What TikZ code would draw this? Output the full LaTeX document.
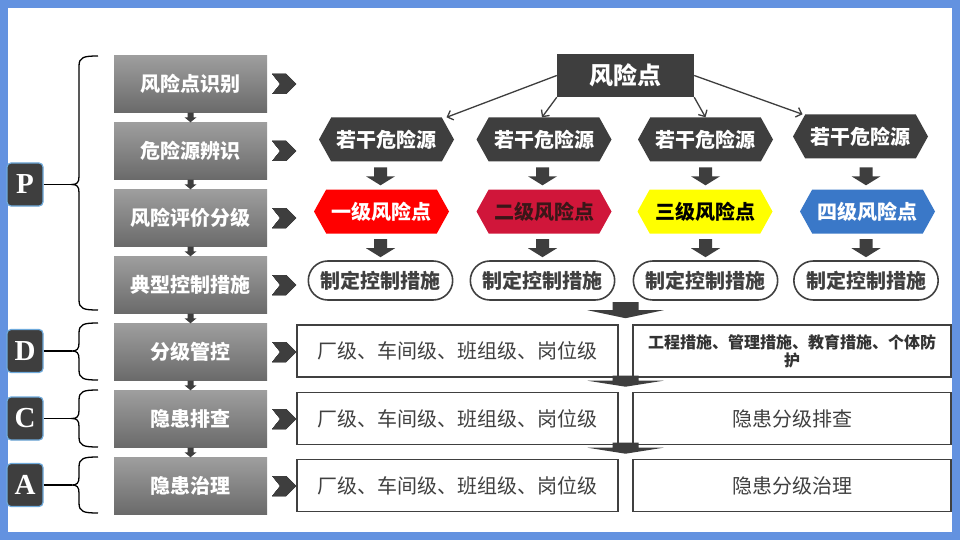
\documentclass[tikz,border=0pt]{standalone}
\usepackage{fontspec}
\setmainfont{Noto Sans CJK SC}
\newfontfamily\letterfont{Liberation Serif}
\usetikzlibrary{shapes.misc,shapes.symbols,arrows.meta,calc}

\definecolor{frameblue}{RGB}{99,146,224}
\definecolor{darkbox}{RGB}{62,62,62}
\definecolor{inkgray}{RGB}{64,64,64}
\definecolor{glowblue}{RGB}{110,170,220}
\definecolor{lvred}{RGB}{255,0,0}
\definecolor{lvcrimson}{RGB}{208,22,58}
\definecolor{lvdark}{RGB}{58,22,24}
\definecolor{lvyellow}{RGB}{255,255,0}
\definecolor{lvblue}{RGB}{58,120,200}

\tikzset{
  stage/.style={rectangle, top color={rgb,255:red,158;green,158;blue,158},
    bottom color={rgb,255:red,106;green,106;blue,106}, minimum width=153,
    minimum height=57, text=white, font=\bfseries\fontsize{20}{24}\selectfont},
  letter/.style={rectangle, rounded corners=4, fill=darkbox, draw=glowblue,
    line width=1.2, minimum width=36, minimum height=43, text=white,
    font=\letterfont\bfseries\fontsize{29}{29}\selectfont},
  topbox/.style={rectangle, fill=darkbox, minimum width=137, minimum height=43,
    text=white, font=\bfseries\fontsize{24}{28}\selectfont},
  source/.style={signal, signal to=east and west, signal pointer angle=122,
    fill=darkbox, text=white, minimum width=135, minimum height=44, inner sep=0,
    font=\bfseries\fontsize{20}{24}\selectfont},
  level/.style 2 args={source, fill=#1, text=#2},
  measure/.style={rounded rectangle, draw=inkgray, line width=1.6, fill=white,
    minimum width=151, minimum height=39, text=inkgray,
    font=\bfseries\fontsize{20}{24}\selectfont},
  row/.style={rectangle, draw=inkgray, line width=1.6, fill=white,
    minimum height=52, text=inkgray, font=\fontsize{20}{24}\selectfont},
  bracket/.style={line width=1.3, black},
  thinarrow/.style={->, line width=1.3, darkbox}
}

% block arrow: from, to, shaft half width, head half width, head length
\newcommand\blockarrow[5]{%
  \fill[darkbox] let \p1=(#1), \p2=(#2) in
    (\x1-#3pt,\y1) -- (\x1+#3pt,\y1) -- (\x1+#3pt,\y2+#5pt) -- (\x1+#4pt,\y2+#5pt)
    -- (\x1,\y2) -- (\x1-#4pt,\y2+#5pt) -- (\x1-#3pt,\y2+#5pt) -- cycle;}
% curly bracket: top, tip, bottom
\newcommand\curly[3]{%
  \draw[bracket] (98,#1) .. controls (84,#1) and (79,#1+1) .. (79,#1+10)
    -- (79,#2-8) .. controls (79,#2-2) and (77,#2) .. (72,#2)
    .. controls (77,#2) and (79,#2+2) .. (79,#2+8)
    -- (79,#3-10) .. controls (79,#3-1) and (84,#3) .. (98,#3);}

\begin{document}
\begin{tikzpicture}[x=1pt, y=-1pt, >={Straight Barb[length=5pt,width=10pt]}]
\useasboundingbox (0,0) rectangle (960,540);
\fill[frameblue] (0,0) rectangle (960,540);
\fill[white] (8,8) rectangle (952,532);

% left column of stages
\foreach \t [count=\i] in {风险点识别,危险源辨识,风险评价分级,典型控制措施,分级管控,隐患排查,隐患治理}
  \node[stage] (s\i) at (190.5,17+67*\i) {\t};
\foreach \i [evaluate=\i as \j using int(\i+1)] in {1,...,6}
  \blockarrow{s\i.south}{s\j.north}{3}{6}{5}
\foreach \i in {1,...,7}
  \fill[darkbox] ($(s\i.east)+(5,-10)$) -- ++(14,0) -- ++(10,10) -- ++(-10,10)
    -- ++(-14,0) -- ++(8,-10) -- cycle;

% P D C A with brackets
\foreach \n/\a/\b/\c in {P/56/184.5/310, D/323/351/380, C/390/418.5/447, A/457/485/513}{
  \node[letter] (\n) at (25,\b) {\n};
  \curly{\a}{\b}{\c}
  \coordinate (t\n) at (72,\b);
  \draw[bracket] (\n) -- (t\n);
}

% risk tree
\node[topbox] (risk) at (625.5,75.5) {风险点};
\foreach \i/\x/\y in {1/386.5/139.5, 2/544/139.5, 3/705.5/139.5, 4/860.5/136.5}
  \node[source] (h\i) at (\x,\y) {若干危险源};
\foreach \i/\x/\c/\t/\lv in {1/381.5/lvred/white/一, 2/544/lvcrimson/lvdark/二,
    3/705/lvyellow/black/三, 4/867.5/lvblue/white/四}
  \node[level={\c}{\t}] (l\i) at (\x,211.5) {{\lv}级风险点};
\foreach \i/\x in {1/380.5, 2/542.5, 3/705.5, 4/866}
  \node[measure] (m\i) at (\x,280.5) {制定控制措施};

\draw[thinarrow] (risk.west) -- ([xshift=60pt]h1.north);
\draw[thinarrow] (risk.south west) -- ([xshift=-2pt]h2.north);
\draw[thinarrow] (risk.south east) -- (h3.north);
\draw[thinarrow] (risk.east) -- ([xshift=-58pt]h4.north);

\foreach \i in {1,...,4}{
  \blockarrow{$(l\i.north -| m\i.north)+(0,-22)$}{$(l\i.north -| m\i.north)+(0,-4)$}{6.5}{14.5}{9}
  \blockarrow{$(m\i.north)+(0,-21)$}{$(m\i.north)+(0,-3)$}{6.5}{14.5}{9}
}

% D C A rows
\node[row, minimum width=321] (dl) at (457.5,351) {厂级、车间级、班组级、岗位级};
\node[row, minimum width=318, align=center, text=black!80,
  font=\bfseries\fontsize{16}{18}\selectfont] (dr) at (792,351)
  {工程措施、管理措施、教育措施、个体防\\护};
\node[row, minimum width=321] (cl) at (457.5,418.5) {厂级、车间级、班组级、岗位级};
\node[row, minimum width=318] (cr) at (792,418.5) {隐患分级排查};
\node[row, minimum width=321] (al) at (457.5,485.5) {厂级、车间级、班组级、岗位级};
\node[row, minimum width=318] (ar) at (792,485.5) {隐患分级治理};

\coordinate (gapD) at ($(dl.north east)!.5!(dr.north west)$);
\coordinate (gapC) at ($(cl.north east)!.5!(cr.north west)$);
\coordinate (gapA) at ($(al.north east)!.5!(ar.north west)$);
\blockarrow{$(gapD)+(0,-22)$}{$(gapD)+(0,-6)$}{13}{38}{8}
\blockarrow{$(gapC)+(0,-16)$}{$(gapC)+(0,-5)$}{13}{38}{6}
\blockarrow{$(gapA)+(0,-16)$}{$(gapA)+(0,-5)$}{13}{38}{6}
\end{tikzpicture}
\end{document}
